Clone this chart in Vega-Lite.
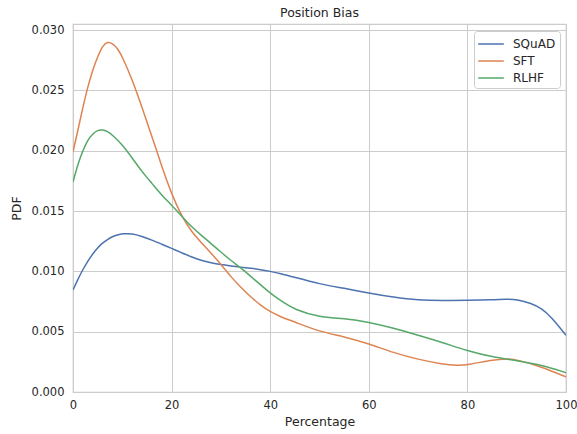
{
  "$schema": "https://vega.github.io/schema/vega-lite/v6.json",
  "width": 493,
  "height": 368,
  "autosize": {"type": "none"},
  "padding": {"left": 73, "top": 24, "right": 11, "bottom": 42},
  "background": "white",
  "config": {
    "font": "DejaVu Sans",
    "view": {"stroke": "#cccccc", "strokeWidth": 1.25},
    "axis": {
      "gridColor": "#cccccc",
      "gridWidth": 1,
      "domain": false,
      "ticks": false,
      "labelFontSize": 11.5,
      "labelColor": "#262626",
      "labelFlush": false,
      "titleFontSize": 12.5,
      "titleFontWeight": "normal",
      "titleColor": "#262626"
    }
  },
  "title": {"text": "Position Bias", "fontSize": 12.5, "fontWeight": "normal", "color": "#262626", "offset": 5},
  "data": {
    "values": [
      {"p": 0, "s": "SQuAD", "v": 0.00845}, {"p": 1, "s": "SQuAD", "v": 0.00935}, {"p": 2, "s": "SQuAD", "v": 0.01015}, {"p": 3, "s": "SQuAD", "v": 0.01085}, {"p": 4, "s": "SQuAD", "v": 0.01145}, {"p": 5, "s": "SQuAD", "v": 0.01195}, {"p": 6, "s": "SQuAD", "v": 0.01235}, {"p": 7, "s": "SQuAD", "v": 0.01265}, {"p": 8, "s": "SQuAD", "v": 0.01288}, {"p": 9, "s": "SQuAD", "v": 0.01303}, {"p": 10, "s": "SQuAD", "v": 0.01312}, {"p": 12, "s": "SQuAD", "v": 0.01314}, {"p": 14, "s": "SQuAD", "v": 0.0129}, {"p": 16, "s": "SQuAD", "v": 0.0126}, {"p": 18, "s": "SQuAD", "v": 0.01225}, {"p": 20, "s": "SQuAD", "v": 0.0119}, {"p": 22, "s": "SQuAD", "v": 0.01155}, {"p": 24, "s": "SQuAD", "v": 0.0112}, {"p": 26, "s": "SQuAD", "v": 0.0109}, {"p": 28, "s": "SQuAD", "v": 0.0107}, {"p": 30, "s": "SQuAD", "v": 0.01055}, {"p": 32, "s": "SQuAD", "v": 0.01045}, {"p": 34, "s": "SQuAD", "v": 0.01035}, {"p": 36, "s": "SQuAD", "v": 0.01025}, {"p": 38, "s": "SQuAD", "v": 0.01015}, {"p": 40, "s": "SQuAD", "v": 0.01}, {"p": 42, "s": "SQuAD", "v": 0.00983}, {"p": 45, "s": "SQuAD", "v": 0.0095}, {"p": 50, "s": "SQuAD", "v": 0.00895}, {"p": 55, "s": "SQuAD", "v": 0.0086}, {"p": 60, "s": "SQuAD", "v": 0.0082}, {"p": 65, "s": "SQuAD", "v": 0.00785}, {"p": 70, "s": "SQuAD", "v": 0.0076}, {"p": 75, "s": "SQuAD", "v": 0.00758}, {"p": 80, "s": "SQuAD", "v": 0.0076}, {"p": 85, "s": "SQuAD", "v": 0.00763}, {"p": 88, "s": "SQuAD", "v": 0.0077}, {"p": 90, "s": "SQuAD", "v": 0.00768}, {"p": 93, "s": "SQuAD", "v": 0.00735}, {"p": 95, "s": "SQuAD", "v": 0.00693}, {"p": 97, "s": "SQuAD", "v": 0.00624}, {"p": 100, "s": "SQuAD", "v": 0.0047},
      {"p": 0, "s": "SFT", "v": 0.0199}, {"p": 1, "s": "SFT", "v": 0.0217}, {"p": 2, "s": "SFT", "v": 0.0236}, {"p": 3, "s": "SFT", "v": 0.0253}, {"p": 4, "s": "SFT", "v": 0.0267}, {"p": 5, "s": "SFT", "v": 0.0278}, {"p": 6, "s": "SFT", "v": 0.0287}, {"p": 7, "s": "SFT", "v": 0.02905}, {"p": 8, "s": "SFT", "v": 0.0289}, {"p": 9, "s": "SFT", "v": 0.0285}, {"p": 10, "s": "SFT", "v": 0.0278}, {"p": 12, "s": "SFT", "v": 0.0259}, {"p": 14, "s": "SFT", "v": 0.0236}, {"p": 16, "s": "SFT", "v": 0.0212}, {"p": 18, "s": "SFT", "v": 0.0187}, {"p": 20, "s": "SFT", "v": 0.0164}, {"p": 22, "s": "SFT", "v": 0.0146}, {"p": 24, "s": "SFT", "v": 0.0133}, {"p": 26, "s": "SFT", "v": 0.0124}, {"p": 28, "s": "SFT", "v": 0.0115}, {"p": 30, "s": "SFT", "v": 0.0106}, {"p": 32, "s": "SFT", "v": 0.00955}, {"p": 34, "s": "SFT", "v": 0.0087}, {"p": 36, "s": "SFT", "v": 0.0079}, {"p": 38, "s": "SFT", "v": 0.0072}, {"p": 40, "s": "SFT", "v": 0.00665}, {"p": 42, "s": "SFT", "v": 0.00625}, {"p": 45, "s": "SFT", "v": 0.0058}, {"p": 50, "s": "SFT", "v": 0.005}, {"p": 55, "s": "SFT", "v": 0.0046}, {"p": 60, "s": "SFT", "v": 0.004}, {"p": 65, "s": "SFT", "v": 0.00325}, {"p": 70, "s": "SFT", "v": 0.0027}, {"p": 75, "s": "SFT", "v": 0.0023}, {"p": 78, "s": "SFT", "v": 0.0022}, {"p": 80, "s": "SFT", "v": 0.00225}, {"p": 85, "s": "SFT", "v": 0.00265}, {"p": 88, "s": "SFT", "v": 0.00278}, {"p": 90, "s": "SFT", "v": 0.00268}, {"p": 95, "s": "SFT", "v": 0.0021}, {"p": 100, "s": "SFT", "v": 0.00125},
      {"p": 0, "s": "RLHF", "v": 0.0174}, {"p": 1, "s": "RLHF", "v": 0.0189}, {"p": 2, "s": "RLHF", "v": 0.02}, {"p": 3, "s": "RLHF", "v": 0.0209}, {"p": 4, "s": "RLHF", "v": 0.0214}, {"p": 5, "s": "RLHF", "v": 0.0217}, {"p": 6, "s": "RLHF", "v": 0.02175}, {"p": 7, "s": "RLHF", "v": 0.0216}, {"p": 8, "s": "RLHF", "v": 0.0213}, {"p": 10, "s": "RLHF", "v": 0.0205}, {"p": 12, "s": "RLHF", "v": 0.0194}, {"p": 14, "s": "RLHF", "v": 0.01825}, {"p": 16, "s": "RLHF", "v": 0.0173}, {"p": 18, "s": "RLHF", "v": 0.0163}, {"p": 20, "s": "RLHF", "v": 0.0155}, {"p": 22, "s": "RLHF", "v": 0.0146}, {"p": 24, "s": "RLHF", "v": 0.0137}, {"p": 26, "s": "RLHF", "v": 0.013}, {"p": 28, "s": "RLHF", "v": 0.0123}, {"p": 30, "s": "RLHF", "v": 0.0116}, {"p": 32, "s": "RLHF", "v": 0.0109}, {"p": 34, "s": "RLHF", "v": 0.0103}, {"p": 36, "s": "RLHF", "v": 0.0096}, {"p": 38, "s": "RLHF", "v": 0.0089}, {"p": 40, "s": "RLHF", "v": 0.0082}, {"p": 42, "s": "RLHF", "v": 0.0076}, {"p": 45, "s": "RLHF", "v": 0.0068}, {"p": 50, "s": "RLHF", "v": 0.0062}, {"p": 55, "s": "RLHF", "v": 0.0061}, {"p": 60, "s": "RLHF", "v": 0.0058}, {"p": 65, "s": "RLHF", "v": 0.0053}, {"p": 70, "s": "RLHF", "v": 0.0047}, {"p": 75, "s": "RLHF", "v": 0.0041}, {"p": 80, "s": "RLHF", "v": 0.0034}, {"p": 85, "s": "RLHF", "v": 0.0029}, {"p": 90, "s": "RLHF", "v": 0.0026}, {"p": 95, "s": "RLHF", "v": 0.00224}, {"p": 100, "s": "RLHF", "v": 0.0016}
    ]
  },
  "mark": {"type": "line", "interpolate": "basis", "strokeWidth": 1.5, "clip": true},
  "encoding": {
    "x": {
      "field": "p", "type": "quantitative", "title": "Percentage",
      "scale": {"domain": [0, 100], "nice": false},
      "axis": {"values": [0, 20, 40, 60, 80, 100], "labelPadding": 7, "titlePadding": 5}
    },
    "y": {
      "field": "v", "type": "quantitative", "title": "PDF",
      "scale": {"domain": [0, 0.0305], "nice": false, "zero": true},
      "axis": {"values": [0, 0.005, 0.01, 0.015, 0.02, 0.025, 0.03], "format": ".3f", "labelPadding": 9, "titlePadding": 8}
    },
    "color": {
      "field": "s", "type": "nominal",
      "scale": {"domain": ["SQuAD", "SFT", "RLHF"], "range": ["#4c72b0", "#dd8452", "#55a868"]},
      "legend": {
        "title": null,
        "orient": "none",
        "legendX": 401,
        "legendY": 7,
        "symbolType": "M-1.1,0H2.1",
        "symbolSize": 256,
        "symbolStrokeWidth": 1.5,
        "labelFontSize": 12,
        "labelColor": "#262626",
        "fillColor": "white",
        "strokeColor": "#cccccc",
        "cornerRadius": 3,
        "padding": 4,
        "rowPadding": 2,
        "labelOffset": 17
      }
    }
  }
}
